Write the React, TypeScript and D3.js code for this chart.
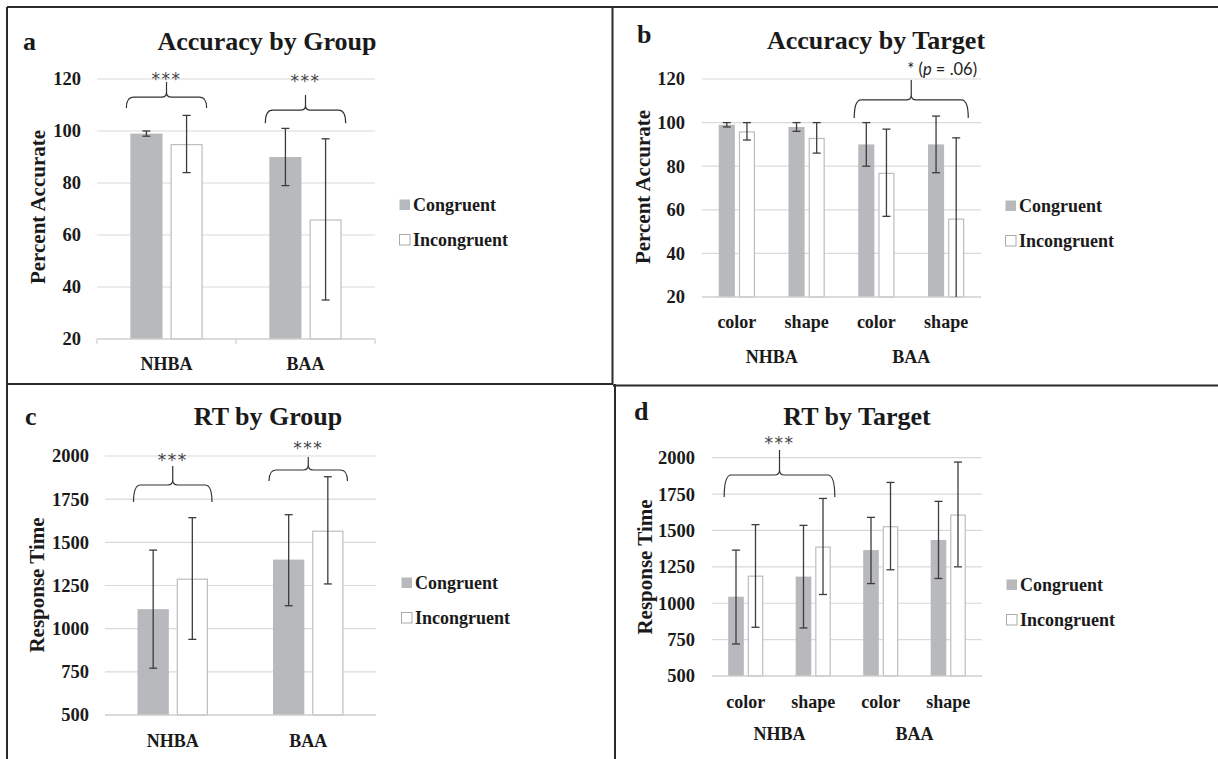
import React from "react";
import * as d3 from "d3";

// categories
const groups = ["NHBA", "BAA"];
const targets = ["color", "shape", "color", "shape"];
const targetGroups = ["NHBA", "BAA"];
const seriesNames = ["Congruent", "Incongruent"];

// tick labels
const accTicks = [20, 40, 60, 80, 100, 120];
const rtTicks = [500, 750, 1000, 1250, 1500, 1750, 2000];

// a: accuracy by group
const accGroupCong = [99, 90];
const accGroupCongErr = [[98, 100], [79, 101]];
const accGroupIncong = [95, 66];
const accGroupIncongErr = [[84, 106], [35, 97]];

// b: accuracy by target
const accTargetCong = [99, 98, 90, 90];
const accTargetCongErr = [[98, 100], [96, 100], [80, 100], [77, 103]];
const accTargetIncong = [96, 93, 77, 56];
const accTargetIncongErr = [[92, 100], [86, 100], [57, 97], [19, 93]];

// c: RT by group
const rtGroupCong = [1113, 1400];
const rtGroupCongErr = [[771, 1455], [1133, 1660]];
const rtGroupIncong = [1290, 1568];
const rtGroupIncongErr = [[938, 1643], [1259, 1880]];

// d: RT by target
const rtTargetCong = [1045, 1183, 1365, 1435];
const rtTargetCongErr = [[720, 1365], [830, 1535], [1135, 1590], [1170, 1700]];
const rtTargetIncong = [1190, 1390, 1530, 1610];
const rtTargetIncongErr = [[835, 1540], [1060, 1720], [1230, 1830], [1250, 1970]];

// significance brackets (category span + heights in data units)
const accGroupSig = [
  { from: 0, to: 0, tip: 108.8, line: 113, peak: 118.8, textY: 121.5, label: "***" },
  { from: 1, to: 1, tip: 103, line: 108, peak: 113.8, textY: 120.8, label: "***" },
];
const accTargetSig = [
  { from: 2, to: 3, tip: 102.1, line: 110.4, peak: 119.5, textY: 121.8, label: "* (p = .06)" },
];
const rtGroupSig = [
  { from: 0, to: 0, tip: 1734, line: 1832, peak: 1942, textY: 2000, label: "***" },
  { from: 1, to: 1, tip: 1855, line: 1919, peak: 1994, textY: 2069, label: "***" },
];
const rtTargetSig = [
  { from: 0, to: 1, tip: 1730, line: 1881, peak: 2053, textY: 2128, label: "***" },
];

const SERIF = "'Liberation Serif', 'Times New Roman', serif";
const SANS = "Lato, 'Liberation Sans', sans-serif";
const STAR = "'DejaVu Sans', sans-serif";
const CONG = "#b8b9bc";
const INC_STROKE = "#bdbdbd";
const ERR = "#3c3c3c";
const GRID = "#d9d9d9";
const INK = "#1a1a1a";

function bracePath(x1, x2, xp, yTip, yLine, yPeak) {
  const r = 5;
  return `M${x1},${yTip} Q${x1},${yLine} ${x1 + r + 2},${yLine} L${xp - r},${yLine} Q${xp},${yLine} ${xp},${yLine - r} L${xp},${yPeak} M${xp},${yLine - r} Q${xp},${yLine} ${xp + r},${yLine} L${x2 - r - 2},${yLine} Q${x2},${yLine} ${x2},${yTip}`;
}

function Panel(p) {
  const x = d3.scaleBand().domain(d3.range(p.cats.length)).range([p.x0, p.x1])
    .paddingInner(0.48).paddingOuter(0.24);
  const inner = d3.scaleBand().domain([0, 1]).range([0, x.bandwidth()]).paddingInner(0.2);
  const y = d3.scaleLinear().domain(p.domain).range([p.yBottom, p.yTop]);
  const [lo, hi] = p.domain;
  const series = [
    { vals: p.cong, err: p.congErr, fill: CONG, stroke: "none" },
    { vals: p.incong, err: p.incongErr, fill: "#ffffff", stroke: INC_STROKE },
  ];
  const step = x.step();
  const starSize = 17;

  return (
    <g>
      <text x={p.letterX} y={p.letterY} fontFamily={SERIF} fontWeight="bold" fontSize={26} fill={INK}>{p.letter}</text>
      <text x={p.titleX} y={p.titleY} textAnchor="middle" fontFamily={SERIF} fontWeight="bold" fontSize={26} fill={INK}>{p.title}</text>

      {p.ticks.map((t) => (
        <g key={t}>
          {t !== lo && <line x1={p.x0} x2={p.x1} y1={y(t)} y2={y(t)} stroke={GRID} strokeWidth={1.2} />}
          <text x={p.tickRight} y={y(t)} dy="0.35em" textAnchor="end" fontFamily={SERIF} fontWeight="bold" fontSize={18.5} fill={INK}>{t}</text>
        </g>
      ))}

      <text transform={`translate(${p.yTitleX},${p.yTitleY}) rotate(-90)`} textAnchor="middle" dy="0.35em"
        fontFamily={SERIF} fontWeight="bold" fontSize={21} fill={INK}>{p.yTitle}</text>

      {series.map((s, si) =>
        s.vals.map((v, i) => {
          const bx = x(i) + inner(si);
          const bw = inner.bandwidth();
          const top = y(v);
          const inset = s.stroke === "none" ? 0 : 0.6;
          return (
            <rect key={`b${si}-${i}`} x={bx + inset} y={top + inset} width={bw - 2 * inset}
              height={y(lo) - top - inset} fill={s.fill} stroke={s.stroke} strokeWidth={s.stroke === "none" ? 0 : 1.2} />
          );
        })
      )}

      <line x1={p.x0} x2={p.x1} y1={y(lo)} y2={y(lo)} stroke="#cfcfcf" strokeWidth={1.6} />
      {p.catTicks && d3.range(p.cats.length + 1).map((k) => (
        <line key={`t${k}`} x1={p.x0 + k * step} x2={p.x0 + k * step} y1={y(lo)} y2={y(lo) + 5} stroke="#cfcfcf" strokeWidth={1.2} />
      ))}

      {series.map((s, si) =>
        s.err.map((e, i) => {
          const cx = x(i) + inner(si) + inner.bandwidth() / 2;
          const e0 = Math.max(e[0], lo);
          const e1 = Math.min(e[1], hi + 20);
          return (
            <g key={`e${si}-${i}`} stroke={ERR} strokeWidth={1.3}>
              <line x1={cx} x2={cx} y1={y(e1)} y2={y(e0)} />
              <line x1={cx - 4} x2={cx + 4} y1={y(e1)} y2={y(e1)} />
              {e[0] >= lo && <line x1={cx - 4} x2={cx + 4} y1={y(e0)} y2={y(e0)} />}
            </g>
          );
        })
      )}

      {p.cats.map((c, i) => (
        <text key={`c${i}`} x={x(i) + x.bandwidth() / 2} y={p.catLabelY} textAnchor="middle"
          fontFamily={SERIF} fontWeight="bold" fontSize={18} fill={INK}>{c}</text>
      ))}
      {p.groupLabels && p.groupLabels.map((g, gi) => (
        <text key={`g${gi}`} x={p.x0 + step * (2 * gi + 1)} y={p.groupLabelY} textAnchor="middle"
          fontFamily={SERIF} fontWeight="bold" fontSize={18} fill={INK}>{g}</text>
      ))}

      {p.sig.map((s, k) => {
        const x1 = x(s.from) - 4;
        const x2 = x(s.to) + x.bandwidth() + 4;
        const xp = (x(s.from) + x(s.to) + x.bandwidth()) / 2;
        const long = s.label.length > 3;
        return (
          <g key={`s${k}`}>
            <path d={bracePath(x1, x2, xp, y(s.tip), y(s.line), y(s.peak))} fill="none" stroke="#333" strokeWidth={1.2} />
            {long ? (
              <text x={xp - 4} y={y(s.textY)} fontFamily={SANS} fontSize={16.5} fill="#222">
                <tspan>* (</tspan><tspan fontStyle="italic">p</tspan><tspan> = .06)</tspan>
              </text>
            ) : (
              <text x={xp} y={y(s.textY) + starSize * 0.58} textAnchor="middle" fontFamily={STAR}
                fontSize={starSize} fill="#444" letterSpacing={1.5}>{s.label}</text>
            )}
          </g>
        );
      })}

      {seriesNames.map((n, i) => (
        <g key={n}>
          <rect x={p.legendX + 0.5} y={p.legendY + i * 35 + 0.5} width={10.5} height={10.5}
            fill={i === 0 ? CONG : "#fff"} stroke={i === 0 ? "none" : "#aaa"} strokeWidth={1} />
          <text x={p.legendX + 14} y={p.legendY + i * 35 + 12} fontFamily={SERIF} fontWeight="bold" fontSize={18} fill={INK}>{n}</text>
        </g>
      ))}
    </g>
  );
}

export default function App() {
  return (
    <div style={{ position: "absolute", left: 0, top: 0 }}>
      <svg width={1218} height={759} style={{ display: "block", background: "#fff" }}>
        <Panel letter="a" letterX={23} letterY={50} title="Accuracy by Group" titleX={267} titleY={50}
          x0={97} x1={375} yBottom={339} yTop={79} domain={[20, 120]} ticks={accTicks} tickRight={81}
          yTitle="Percent Accurate" yTitleX={38} yTitleY={207} cats={groups} catLabelY={370} catTicks
          cong={accGroupCong} congErr={accGroupCongErr} incong={accGroupIncong} incongErr={accGroupIncongErr}
          sig={accGroupSig} legendX={399} legendY={199} />
        <Panel letter="b" letterX={637} letterY={43} title="Accuracy by Target" titleX={876} titleY={49}
          x0={702} x1={981} yBottom={297} yTop={79} domain={[20, 120]} ticks={accTicks} tickRight={685}
          yTitle="Percent Accurate" yTitleX={643} yTitleY={187} cats={targets} catLabelY={328}
          groupLabels={targetGroups} groupLabelY={363}
          cong={accTargetCong} congErr={accTargetCongErr} incong={accTargetIncong} incongErr={accTargetIncongErr}
          sig={accTargetSig} legendX={1005} legendY={200} />
        <Panel letter="c" letterX={25} letterY={425} title="RT by Group" titleX={268} titleY={425}
          x0={105} x1={376} yBottom={715} yTop={456} domain={[500, 2000]} ticks={rtTicks} tickRight={89}
          yTitle="Response Time" yTitleX={37} yTitleY={585} cats={groups} catLabelY={747}
          cong={rtGroupCong} congErr={rtGroupCongErr} incong={rtGroupIncong} incongErr={rtGroupIncongErr}
          sig={rtGroupSig} legendX={401} legendY={577} />
        <Panel letter="d" letterX={634} letterY={420} title="RT by Target" titleX={857} titleY={425}
          x0={712} x1={982} yBottom={676} yTop={457.7} domain={[500, 2000]} ticks={rtTicks} tickRight={695}
          yTitle="Response Time" yTitleX={645} yTitleY={567} cats={targets} catLabelY={708}
          groupLabels={targetGroups} groupLabelY={740}
          cong={rtTargetCong} congErr={rtTargetCongErr} incong={rtTargetIncong} incongErr={rtTargetIncongErr}
          sig={rtTargetSig} legendX={1006} legendY={579} />

        {/* panel frame lines */}
        <g stroke="#2b2b2b" strokeWidth={2}>
          <line x1={7} x2={1218} y1={7} y2={7} />
          <line x1={7} x2={7} y1={7} y2={759} />
          <line x1={612.5} x2={612.5} y1={7} y2={385} />
          <line x1={615} x2={615} y1={384} y2={759} />
          <line x1={7} x2={613} y1={384} y2={384} />
          <line x1={613} x2={1218} y1={385.5} y2={385.5} />
        </g>
      </svg>
    </div>
  );
}
